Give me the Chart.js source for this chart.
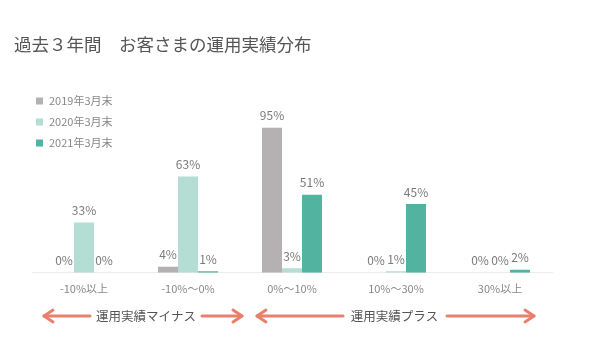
<!DOCTYPE html>
<html>
<head>
<meta charset="utf-8">
<script src="https://cdn.jsdelivr.net/npm/chart.js@4.4.0/dist/chart.umd.min.js"></script>
<style>
  body { margin: 0; background: #fff; }
  #wrap { width: 596px; height: 353px; }
</style>
</head>
<body>
<div id="wrap"><canvas id="chart" width="596" height="353"></canvas></div>
<script>
const categories = ['-10%以上', '-10%〜0%', '0%〜10%', '10%〜30%', '30%以上'];
const seriesNames = ['2019年3月末', '2020年3月末', '2021年3月末'];
const values2019 = [0, 4, 95, 0, 0];
const values2020 = [33, 63, 3, 1, 0];
const values2021 = [0, 1, 51, 45, 2];
const colors = ['#b5b0b1', '#b4ded4', '#52b3a1'];

const FONT = '"Noto Sans CJK JP", "Noto Sans", sans-serif';

// value labels above each bar
const barLabels = {
    id: 'barLabels',
    afterDatasetsDraw(chart) {
        const ctx = chart.ctx;
        ctx.save();
        ctx.font = '12px ' + FONT;
        ctx.fillStyle = '#7a7a7a';
        ctx.textAlign = 'center';
        ctx.textBaseline = 'middle';
        chart.data.datasets.forEach((ds, i) => {
            chart.getDatasetMeta(i).data.forEach((bar, j) => {
                ctx.fillText(ds.data[j] + '%', bar.x, bar.y - 12);
            });
        });
        ctx.restore();
    }
};

// legend stacked at top-left
const sideLegend = {
    id: 'sideLegend',
    afterDraw(chart) {
        const ctx = chart.ctx;
        ctx.save();
        ctx.font = '11px ' + FONT;
        ctx.textBaseline = 'middle';
        chart.data.datasets.forEach((ds, i) => {
            const y = 101 + i * 21;
            ctx.fillStyle = ds.backgroundColor;
            ctx.fillRect(36, y - 3.5, 7, 7);
            ctx.fillStyle = '#888';
            ctx.fillText(ds.label, 49, y);
        });
        ctx.restore();
    }
};

// "運用実績マイナス / プラス" arrows under the axis
const arrowGroups = [
    {text: '運用実績マイナス', x: 146, left: [44, 90], right: [202, 242]},
    {text: '運用実績プラス', x: 394.5, left: [257, 343], right: [447, 534]}
];

function drawArrow(ctx, x1, x2, y, headAt) {
    ctx.beginPath();
    ctx.moveTo(x1, y);
    ctx.lineTo(x2, y);
    ctx.stroke();
    const tip = headAt === 'left' ? x1 : x2;
    const dir = headAt === 'left' ? 1 : -1;
    ctx.beginPath();
    ctx.moveTo(tip + dir * 9, y - 6);
    ctx.lineTo(tip, y);
    ctx.lineTo(tip + dir * 9, y + 6);
    ctx.stroke();
}

const bottomArrows = {
    id: 'bottomArrows',
    afterDraw(chart) {
        const ctx = chart.ctx;
        const y = 316;
        ctx.save();
        ctx.strokeStyle = '#e9806b';
        ctx.lineWidth = 3;
        ctx.lineCap = 'round';
        ctx.lineJoin = 'round';
        for (let g of arrowGroups) {
            drawArrow(ctx, g.left[0], g.left[1], y, 'left');
            drawArrow(ctx, g.right[0], g.right[1], y, 'right');
        }
        ctx.font = '12.5px ' + FONT;
        ctx.fillStyle = '#555';
        ctx.textAlign = 'center';
        ctx.textBaseline = 'middle';
        for (let g of arrowGroups) {
            ctx.fillText(g.text, g.x, y);
        }
        ctx.restore();
    }
};

new Chart(document.getElementById('chart'), {
    type: 'bar',
    data: {
        labels: categories,
        datasets: [
            {label: seriesNames[0], data: values2019, backgroundColor: colors[0]},
            {label: seriesNames[1], data: values2020, backgroundColor: colors[1]},
            {label: seriesNames[2], data: values2021, backgroundColor: colors[2]}
        ]
    },
    options: {
        responsive: false,
        devicePixelRatio: 1,
        animation: false,
        layout: {padding: {left: 14, right: 44, top: 0, bottom: 49}},
        datasets: {bar: {barPercentage: 1, categoryPercentage: 0.577, borderWidth: 0}},
        plugins: {
            legend: {display: false},
            tooltip: {enabled: false},
            title: {
                display: true,
                text: '過去３年間　お客さまの運用実績分布',
                align: 'start',
                color: '#555',
                font: {family: FONT, size: 17.5, weight: 'normal'},
                padding: {top: 34, bottom: 65}
            }
        },
        scales: {
            x: {
                grid: {drawOnChartArea: false, drawTicks: false},
                border: {display: true, color: '#ececec', width: 1},
                ticks: {color: '#888', padding: 9, font: {family: FONT, size: 11}}
            },
            y: {
                min: 0,
                max: 100,
                grid: {display: false},
                border: {display: false},
                ticks: {display: false},
                afterFit: scale => { scale.width = 18; }
            }
        }
    },
    plugins: [barLabels, sideLegend, bottomArrows]
});
</script>
</body>
</html>
